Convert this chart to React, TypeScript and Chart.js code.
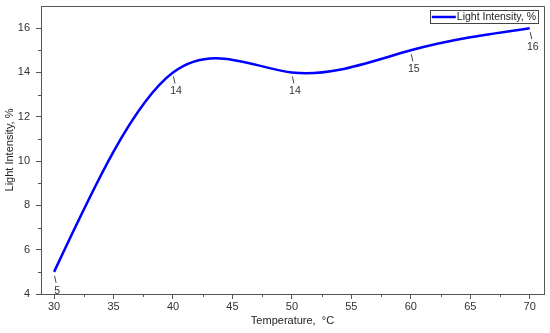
import React, { useEffect, useRef } from "react";
import { Chart, registerables } from "chart.js";

Chart.register(...registerables);

const temperatures = [30, 40, 50, 60, 70];
const intensity = [5, 14, 14, 15, 16];
const pointLabels = ["5", "14", "14", "15", "16"];
const xTicks = [30, 35, 40, 45, 50, 55, 60, 65, 70];
const yTicks = [4, 6, 8, 10, 12, 14, 16];
const seriesName = "Light Intensity, %";
const xTitle = "Temperature,  °C";
const yTitle = "Light Intensity, %";

const AXIS = "#555555";
const TEXT = "#333333";
const BLUE = "#0000ff";
const FONT = "Arial, 'Liberation Sans', sans-serif";

// Sets Bezier control points so the library's line follows a natural cubic spline
const naturalSplinePlugin = {
  id: "naturalSpline",
  beforeDatasetsDraw(chart: any) {
    const meta = chart.getDatasetMeta(0);
    const line = meta.dataset;
    if (!line) return;
    line.updateControlPoints(chart.chartArea, meta.iScale.axis);
    const pts = meta.data;
    const n = pts.length;
    if (n < 3) return;
    const xs = pts.map((p: any) => p.x);
    const ys = pts.map((p: any) => p.y);
    const h: number[] = [];
    for (let i = 0; i < n - 1; i++) h.push(xs[i + 1] - xs[i]);
    const a: number[] = new Array(n).fill(0);
    const b: number[] = new Array(n).fill(1);
    const c: number[] = new Array(n).fill(0);
    const d: number[] = new Array(n).fill(0);
    for (let i = 1; i < n - 1; i++) {
      a[i] = h[i - 1];
      b[i] = 2 * (h[i - 1] + h[i]);
      c[i] = h[i];
      d[i] = 6 * ((ys[i + 1] - ys[i]) / h[i] - (ys[i] - ys[i - 1]) / h[i - 1]);
    }
    for (let i = 1; i < n; i++) {
      const w = a[i] / b[i - 1];
      b[i] -= w * c[i - 1];
      d[i] -= w * d[i - 1];
    }
    const M: number[] = new Array(n).fill(0);
    M[n - 1] = d[n - 1] / b[n - 1];
    for (let i = n - 2; i >= 0; i--) M[i] = (d[i] - c[i] * M[i + 1]) / b[i];
    const m: number[] = [];
    for (let i = 0; i < n - 1; i++) {
      m.push((ys[i + 1] - ys[i]) / h[i] - (h[i] * (2 * M[i] + M[i + 1])) / 6);
    }
    m.push((ys[n - 1] - ys[n - 2]) / h[n - 2] + (h[n - 2] * (M[n - 2] + 2 * M[n - 1])) / 6);
    for (let i = 0; i < n; i++) {
      const p = pts[i];
      const hp = i > 0 ? h[i - 1] : 0;
      const hn = i < n - 1 ? h[i] : 0;
      p.cp1x = xs[i] - hp / 3;
      p.cp1y = ys[i] - (m[i] * hp) / 3;
      p.cp2x = xs[i] + hn / 3;
      p.cp2y = ys[i] + (m[i] * hn) / 3;
    }
  },
};

const framePlugin = {
  id: "frame",
  afterDraw(chart: any) {
    const { ctx, chartArea } = chart;
    const xs = chart.scales.x;
    const ys = chart.scales.y;
    ctx.save();
    ctx.strokeStyle = AXIS;
    ctx.lineWidth = 1;
    ctx.beginPath();
    ctx.moveTo(Math.round(chartArea.left) + 0.5, Math.round(chartArea.top) + 0.5);
    ctx.lineTo(Math.round(chartArea.right) + 0.5, Math.round(chartArea.top) + 0.5);
    ctx.lineTo(Math.round(chartArea.right) + 0.5, Math.round(chartArea.bottom) + 0.5);
    ctx.stroke();
    // minor ticks
    ctx.beginPath();
    for (let v = 32.5; v < 71; v += 5) {
      const px = Math.round(xs.getPixelForValue(v)) + 0.5;
      ctx.moveTo(px, chartArea.bottom);
      ctx.lineTo(px, chartArea.bottom + 3);
    }
    for (let v = 5; v < 17; v += 2) {
      const py = Math.round(ys.getPixelForValue(v)) + 0.5;
      ctx.moveTo(chartArea.left, py);
      ctx.lineTo(chartArea.left - 3, py);
    }
    ctx.stroke();

    // data labels with leader lines
    const meta = chart.getDatasetMeta(0);
    ctx.font = `10.5px ${FONT}`;
    ctx.fillStyle = TEXT;
    ctx.textAlign = "center";
    ctx.textBaseline = "middle";
    meta.data.forEach((pt: any, i: number) => {
      const x = pt.x;
      const y = pt.y;
      ctx.beginPath();
      ctx.strokeStyle = "#444444";
      ctx.moveTo(x + 0.5, y + 4);
      ctx.lineTo(x + 2, y + 11);
      ctx.stroke();
      ctx.fillText(pointLabels[i], x + 3, y + 19);
    });

    // legend box
    ctx.font = `10.5px ${FONT}`;
    const tw = ctx.measureText(seriesName).width;
    const bw = 27 + tw + 2;
    const bh = 13;
    const bx = 538 - bw;
    const by = 10.5;
    ctx.strokeStyle = "#444444";
    ctx.lineWidth = 1;
    ctx.strokeRect(Math.round(bx) + 0.5, by, Math.round(bw), bh);
    ctx.beginPath();
    ctx.strokeStyle = BLUE;
    ctx.lineWidth = 2.5;
    ctx.moveTo(bx + 2, by + bh / 2);
    ctx.lineTo(bx + 26, by + bh / 2);
    ctx.stroke();
    ctx.fillStyle = "#222222";
    ctx.textAlign = "left";
    ctx.fillText(seriesName, bx + 27, by + bh / 2 + 0.5);
    ctx.restore();
  },
};

export default function App() {
  const ref = useRef<HTMLCanvasElement | null>(null);
  useEffect(() => {
    if (!ref.current) return;
    const chart = new Chart(ref.current, {
      type: "line",
      data: {
        datasets: [
          {
            label: seriesName,
            data: temperatures.map((t, i) => ({ x: t, y: intensity[i] })),
            borderColor: BLUE,
            borderWidth: 2.5,
            pointRadius: 0,
            tension: 0.4,
            fill: false,
          },
        ],
      },
      options: {
        responsive: false,
        animation: false,
        layout: { padding: { top: 6, right: 6, left: 0, bottom: 0 } },
        plugins: { legend: { display: false }, tooltip: { enabled: false } },
        scales: {
          x: {
            type: "linear",
            min: 28.9,
            max: 71.2,
            afterBuildTicks: (s: any) => {
              s.ticks = xTicks.map((v) => ({ value: v }));
            },
            afterFit: (s: any) => {
              s.height = 39;
              s.paddingLeft = 0;
              s.paddingRight = 0;
            },
            grid: { display: true, drawOnChartArea: false, tickLength: 5, color: AXIS },
            border: { display: true, color: AXIS },
            ticks: { color: TEXT, font: { size: 11, family: FONT }, padding: 1, maxRotation: 0 },
            title: {
              display: true,
              text: xTitle,
              color: "#222222",
              font: { size: 11, family: FONT },
              padding: { top: 0, bottom: 5 },
            },
          },
          y: {
            type: "linear",
            min: 4,
            max: 17,
            afterBuildTicks: (s: any) => {
              s.ticks = yTicks.map((v) => ({ value: v }));
            },
            afterFit: (s: any) => {
              s.width = 41;
              s.paddingTop = 0;
              s.paddingBottom = 0;
            },
            grid: { display: true, drawOnChartArea: false, tickLength: 5, color: AXIS },
            border: { display: true, color: AXIS },
            ticks: { color: TEXT, font: { size: 11, family: FONT }, padding: 6 },
            title: {
              display: true,
              text: yTitle,
              color: "#222222",
              font: { size: 11, family: FONT },
              padding: { top: 3, bottom: 0 },
            },
          },
        },
      },
      plugins: [naturalSplinePlugin, framePlugin],
    } as any);
    return () => chart.destroy();
  }, []);
  return (
    <div style={{ position: "absolute", left: 0, top: 0, width: 550, height: 333, background: "#fff" }}>
      <canvas ref={ref} width={550} height={333} />
    </div>
  );
}
